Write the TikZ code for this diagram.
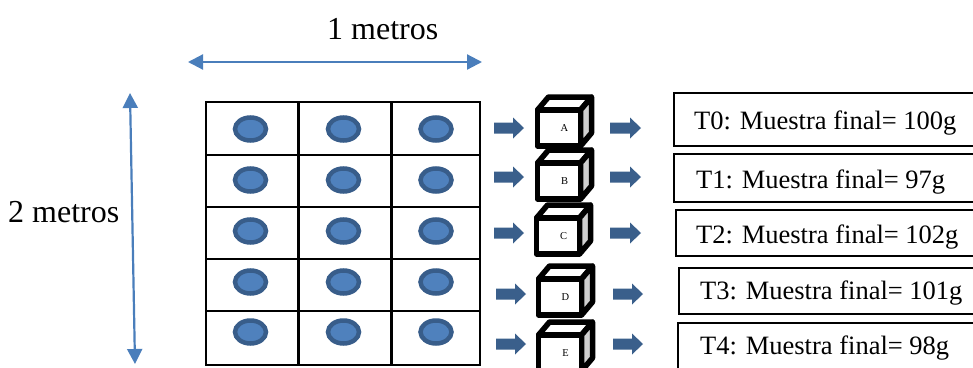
\documentclass[tikz,border=0pt]{standalone}
\usepackage{fontspec}
\setmainfont{Liberation Serif}
\usetikzlibrary{arrows.meta,shapes.geometric}

\definecolor{dimblue}{RGB}{74,126,187}
\definecolor{potfill}{RGB}{79,129,189}
\definecolor{potedge}{RGB}{56,93,138}
\definecolor{flowblue}{RGB}{58,95,139}
\definecolor{sideface}{RGB}{208,208,208}

% cube: #1 left x, #2 top y of the front face, #3 letter, #4 node name
\newcommand\drawcube[4]{%
  \begin{scope}[line width=5.5pt, line join=round]
    \filldraw[fill=white] (#1,#2) -- ++(11,-13) -- ++(43,0) -- ++(-11,13) -- cycle;
    \filldraw[fill=sideface] (#1+43,#2) -- ++(11,-13) -- ++(0,36) -- ++(-11,13) -- cycle;
    \filldraw[fill=white] (#1,#2) rectangle ++(43,36);
  \end{scope}
  \node[cubelabel] (#4) at (#1+27,#2+18) {#3};%
}
% block arrow pointing right: #1 tail x, #2 tip x, #3 centre y
\newcommand\blockarrow[3]{%
  \fill[flowblue] (#1,#3-5.5) -- (#2-11,#3-5.5) -- (#2-11,#3-10.5) -- (#2,#3)
    -- (#2-11,#3+10.5) -- (#2-11,#3+5.5) -- (#1,#3+5.5) -- cycle;%
}

\begin{document}
\begin{tikzpicture}[x=1pt,y=-1pt,
  dimline/.style={draw=dimblue, line width=2.2pt,
    {Triangle[length=15pt,width=15pt]}-{Triangle[length=15pt,width=15pt]}},
  gridline/.style={line width=2.6pt},
  pot/.style={ellipse, draw=potedge, fill=potfill, line width=4.5pt,
    minimum width=31pt, minimum height=23pt, inner sep=0pt},
  cubelabel/.style={font=\fontsize{10.5}{12}\selectfont, inner sep=0pt},
  dimlabel/.style={font=\fontsize{32}{36}\selectfont, anchor=base west, inner sep=0pt},
  resultbox/.style={draw, line width=1.4pt},
  resulttext/.style={font=\fontsize{26.5}{30}\selectfont, anchor=base west, inner sep=0pt}]

\useasboundingbox (0,0) rectangle (973,367);

% dimension arrows and labels
\coordinate (wl) at (188,62);
\coordinate (wr) at (482,62);
\draw[dimline] (wl) -- (wr);
\node[dimlabel] (wlab) at (327,39) {1 metros};

\coordinate (ht) at (130,93);
\coordinate (hb) at (135,364);
\draw[dimline] (ht) -- (hb);
\node[dimlabel] (hlab) at (8,222) {2 metros};

% plot grid
\draw[gridline] (206,102) rectangle (480,365);
\draw[gridline] (298.5,102) -- (298.5,365);
\draw[gridline] (391.5,102) -- (391.5,365);
\foreach \yy in {155,207,259,311}
  \draw[gridline] (206,\yy) -- (480,\yy);

% plants
\foreach \r/\yy in {1/129,2/180,3/231,4/282,5/332} {
  \node[pot] (p\r a) at (250.5,\yy) {};
  \node[pot] (p\r b) at (343.5,\yy) {};
  \node[pot] (p\r c) at (436,\yy) {};
}

% arrows into the sample boxes
\blockarrow{494}{524}{128}
\blockarrow{494}{524}{177}
\blockarrow{494}{524}{233}
\blockarrow{496}{526}{294}
\blockarrow{496}{526}{344}

% sample boxes
\drawcube{537.5}{110}{A}{ca}
\drawcube{537.5}{163}{B}{cb}
\drawcube{536.5}{218}{C}{cc}
\drawcube{538.5}{279}{D}{cd}
\drawcube{538.5}{335}{E}{ce}

% arrows to the results
\blockarrow{610}{641}{128}
\blockarrow{610}{641}{177}
\blockarrow{610}{641}{233}
\blockarrow{613}{643}{294}
\blockarrow{613}{643}{344}

% results
\draw[resultbox] (674,93) rectangle (990,146);
\draw[resultbox] (674,154) rectangle (990,202);
\draw[resultbox] (676,210) rectangle (990,256);
\draw[resultbox] (679,268) rectangle (990,314);
\draw[resultbox] (678,323) rectangle (990,390);

\node[resulttext] (t0) at (694,129) {T0: Muestra final= 100g};
\node[resulttext] (t1) at (696,188) {T1: Muestra final= 97g};
\node[resulttext] (t2) at (696,243) {T2: Muestra final= 102g};
\node[resulttext] (t3) at (700,299) {T3: Muestra final= 101g};
\node[resulttext] (t4) at (700,354) {T4: Muestra final= 98g};

\end{tikzpicture}
\end{document}
